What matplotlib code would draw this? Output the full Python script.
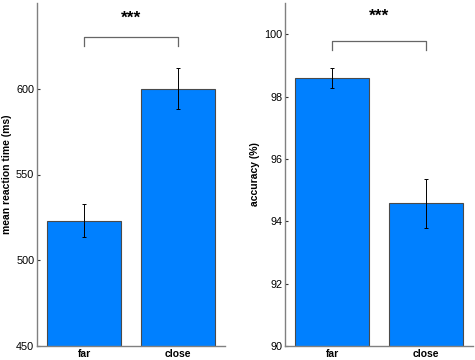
import matplotlib
matplotlib.use("Agg")
import matplotlib.pyplot as plt

plt.rcParams['font.family'] = ['Liberation Sans', 'DejaVu Sans']

categories = ["far", "close"]
rt_means = [523, 600]
rt_errs = [9.7, 12]
acc_means = [98.6, 94.57]
acc_errs = [0.32, 0.8]

rt_ticks = [450, 500, 550, 600]
acc_ticks = [90, 92, 94, 96, 98, 100]

fig = plt.figure(figsize=(4.75, 3.6), dpi=100)
W, H = 475, 360
ax1 = fig.add_axes([37 / W, 1 - 346 / H, 188 / W, 343 / H])
ax2 = fig.add_axes([285 / W, 1 - 346 / H, 188 / W, 343 / H])

bar_color = '#0080FF'
edge = '#4a4a4a'
spine_c = '#808080'

def style(ax):
    for s in ['top', 'right']:
        ax.spines[s].set_visible(False)
    for s in ['left', 'bottom']:
        ax.spines[s].set_color(spine_c)
        ax.spines[s].set_linewidth(1.0)
    ax.tick_params(axis='y', direction='in', length=2.5, width=0.8, color='#333333',
                   labelsize=7.8, pad=2)
    ax.tick_params(axis='x', length=0, labelsize=7.5, pad=2)
    for lab in ax.get_xticklabels():
        lab.set_fontweight('bold')

def bracket(ax, x1, x2, y, h, ytext):
    ax.plot([x1, x1, x2, x2], [y - h, y, y, y - h], color='#666666', lw=0.9, clip_on=False)
    ax.text((x1 + x2) / 2, ytext, '***', ha='center', va='center', fontsize=12.5,
            fontweight='bold')

x = [1, 2]
ax1.bar(x, rt_means, width=0.79, color=bar_color, edgecolor=edge, linewidth=0.8,
        yerr=rt_errs, error_kw=dict(ecolor='black', elinewidth=0.7, capsize=1.5, capthick=0.7))
ax1.set_xlim(0.5, 2.5)
ax1.set_ylim(450, 650)
ax1.set_yticks(rt_ticks)
ax1.set_xticks(x)
ax1.set_xticklabels(categories)
ax1.set_ylabel('mean reaction time (ms)', fontsize=7.5, fontweight='bold', labelpad=3)
style(ax1)
bracket(ax1, 1, 2, 630, 5, 641)

ax2.bar(x, acc_means, width=0.79, color=bar_color, edgecolor=edge, linewidth=0.8,
        yerr=acc_errs, error_kw=dict(ecolor='black', elinewidth=0.7, capsize=1.5, capthick=0.7))
ax2.set_xlim(0.5, 2.5)
ax2.set_ylim(90, 101)
ax2.set_yticks(acc_ticks)
ax2.set_xticks(x)
ax2.set_xticklabels(categories)
ax2.set_ylabel('accuracy (%)', fontsize=7.5, fontweight='bold', labelpad=3)
style(ax2)
bracket(ax2, 1, 2, 99.78, 0.29, 100.58)

fig.savefig('out.png', dpi=100)
